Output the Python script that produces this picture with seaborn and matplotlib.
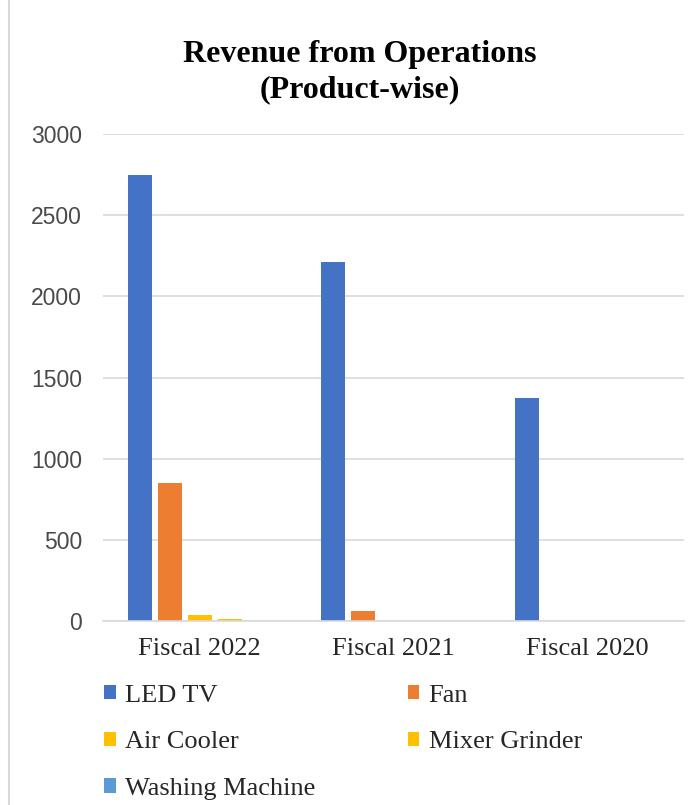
import matplotlib
matplotlib.use("Agg")
import matplotlib.pyplot as plt
from matplotlib.lines import Line2D
from matplotlib.patches import Patch
import seaborn as sns
import pandas as pd

# Revenue by product and fiscal year
years = ["Fiscal 2022", "Fiscal 2021", "Fiscal 2020"]
products = ["LED TV", "Fan", "Air Cooler", "Mixer Grinder", "Washing Machine"]
led_tv = [2750, 2212, 1372]
fan = [848, 60, 0]
air_cooler = [39, 0, 0]
mixer_grinder = [15, 0, 0]
washing_machine = [0, 0, 0]
colors = ["#4472C4", "#ED7D31", "#FFC000", "#FFC000", "#5B9BD5"]
y_ticks = [0, 500, 1000, 1500, 2000, 2500, 3000]

series = [led_tv, fan, air_cooler, mixer_grinder, washing_machine]
rows = []
for prod, vals in zip(products, series):
    for yr, v in zip(years, vals):
        rows.append({"year": yr, "product": prod, "value": v})
df = pd.DataFrame(rows)

sns.set_style("white")
plt.rcParams["font.family"] = ["Liberation Serif", "DejaVu Serif"]

fig = plt.figure(figsize=(6.99, 8.05), dpi=100)
W, H = 699, 805
ax = fig.add_axes([103 / W, (H - 621) / H, (684 - 103) / W, (621 - 134) / H])

palette = dict(zip(products, colors))
sns.barplot(data=df, x="year", y="value", hue="product", order=years,
            hue_order=products, palette=palette, width=0.775, gap=0.2,
            linewidth=0, legend=False, ax=ax, saturation=1)

ax.set_xlim(-0.5, 2.5)
ax.set_ylim(0, 3000)
ax.set_yticks(y_ticks)
ax.set_yticklabels([str(t) for t in y_ticks], family="Liberation Sans",
                   fontsize=16.5, color="#4a4a4a")
ax.tick_params(axis="y", length=0, pad=15)
ax.tick_params(axis="x", length=0, pad=12, labelsize=19, labelcolor="#262626")
ax.set_xlabel("")
ax.set_ylabel("")
ax.yaxis.grid(True, color="#D9D9D9", linewidth=1.2)
ax.set_axisbelow(True)
for side in ["left", "right", "top"]:
    ax.spines[side].set_visible(False)
ax.spines["bottom"].set_color("#D9D9D9")
ax.spines["bottom"].set_linewidth(1.2)

fig.text(360 / W, 1 - 40 / H, "Revenue from Operations\n(Product-wise)",
         ha="center", va="top", fontsize=23, fontweight="bold",
         color="#000000", linespacing=1.3)

# Legend: two columns, filled column by column
handles = [Patch(facecolor=c, edgecolor="none") for c in colors]
order = [0, 2, 4, 1, 3]
fig.legend([handles[i] for i in order], [products[i] for i in order],
           ncol=2, loc="upper left", bbox_to_anchor=(80 / W, 1 - 661 / H),
           frameon=False, fontsize=19, handlelength=0.45, handleheight=0.45,
           handletextpad=0.35, labelspacing=0.93, columnspacing=3.5,
           labelcolor="#262626")

# Thin border line along the left edge
fig.add_artist(Line2D([9 / W, 9 / W], [0, 1], transform=fig.transFigure,
                      color="#D9D9D9", linewidth=1.5))

fig.savefig("out.png", dpi=100)
